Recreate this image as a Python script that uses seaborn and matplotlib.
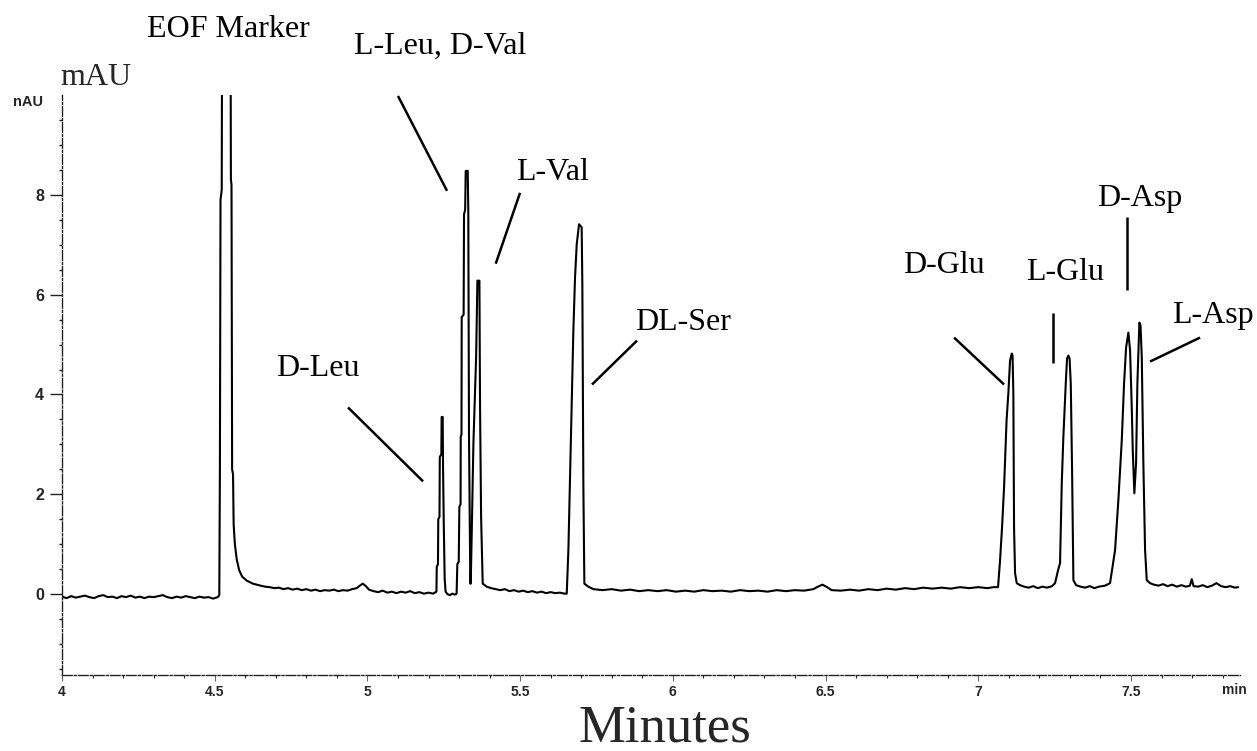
import numpy as np
import pandas as pd
import matplotlib
matplotlib.use("Agg")
import matplotlib.pyplot as plt
import seaborn as sns

# ---------------- data ----------------
# baseline before the EOF marker
base1_t = [4.000, 4.015, 4.030, 4.045, 4.060, 4.075, 4.090, 4.105, 4.120, 4.135, 4.150, 4.165,
           4.180, 4.195, 4.210, 4.225, 4.240, 4.255, 4.270, 4.285, 4.300, 4.315, 4.330, 4.345,
           4.360, 4.375, 4.390, 4.405, 4.420, 4.435, 4.450, 4.465, 4.480, 4.495, 4.510]
base1_v = [-0.05, -0.08, -0.04, -0.07, -0.05, -0.03, -0.06, -0.08, -0.04, -0.02, -0.06, -0.05,
           -0.08, -0.04, -0.06, -0.03, -0.07, -0.05, -0.08, -0.05, -0.06, -0.04, -0.02, -0.06,
           -0.08, -0.05, -0.07, -0.04, -0.06, -0.08, -0.05, -0.07, -0.06, -0.09, -0.06]

# EOF marker (off scale)
eof_t = [4.515, 4.517, 4.519, 4.521, 4.523, 4.525, 4.551, 4.553, 4.555, 4.557, 4.560,
         4.562, 4.566, 4.572, 4.580, 4.590, 4.605, 4.625, 4.650]
eof_v = [-0.02, 2.5, 7.9, 8.0, 8.1, 14.0, 14.0, 8.3, 8.2, 2.5, 2.4,
         1.4, 1.0, 0.7, 0.48, 0.35, 0.27, 0.21, 0.17]

base2_t = [4.665, 4.680, 4.695, 4.710, 4.725, 4.740, 4.755, 4.770, 4.785, 4.800, 4.815, 4.830,
           4.845, 4.860, 4.875, 4.890, 4.905, 4.920, 4.935, 4.950, 4.965, 4.975, 4.985, 4.995,
           5.005, 5.020, 5.035, 5.050, 5.065, 5.080, 5.095, 5.110, 5.125, 5.140, 5.155, 5.170,
           5.185, 5.200, 5.215]
base2_v = [0.15, 0.14, 0.12, 0.13, 0.10, 0.12, 0.09, 0.11, 0.08, 0.10, 0.07, 0.09,
           0.06, 0.08, 0.07, 0.09, 0.06, 0.08, 0.07, 0.10, 0.12, 0.17, 0.21, 0.16,
           0.09, 0.06, 0.04, 0.07, 0.03, 0.05, 0.02, 0.05, 0.03, 0.06, 0.02, 0.04,
           0.01, 0.03, 0.01]

# D-Leu, L-Leu/D-Val, L-Val
leu_t = [5.226, 5.227, 5.231, 5.232, 5.236, 5.237, 5.242, 5.243, 5.2465, 5.2475, 5.250, 5.253,
         5.256, 5.262, 5.270, 5.278, 5.286, 5.292,
         5.2944, 5.299, 5.301, 5.305, 5.3055, 5.308, 5.3087, 5.315, 5.3163, 5.320, 5.3218,
         5.3284, 5.3303, 5.3326, 5.3349, 5.3369, 5.3382,
         5.3415, 5.347, 5.3559, 5.3601, 5.3667, 5.3687, 5.3722, 5.3775, 5.3906]
leu_v = [0.05, 0.55, 0.60, 1.50, 1.55, 2.75, 2.80, 3.55, 3.55, 2.60, 1.40, 0.30,
         0.05, 0.00, -0.02, 0.01, -0.01, 0.01,
         0.60, 0.65, 1.75, 1.80, 3.15, 3.20, 5.55, 5.60, 7.61, 7.70, 8.48,
         8.48, 7.68, 3.15, 1.55, 0.21, 0.21,
         1.21, 3.01, 4.75, 6.28, 6.28, 3.81, 1.55, 0.21, 0.15]

base3_t = [5.405, 5.420, 5.435, 5.450, 5.465, 5.480, 5.495, 5.510, 5.525, 5.540, 5.555, 5.570,
           5.585, 5.600, 5.615, 5.630, 5.645]
base3_v = [0.12, 0.10, 0.08, 0.10, 0.06, 0.08, 0.05, 0.07, 0.04, 0.06, 0.03, 0.05,
           0.02, 0.04, 0.02, 0.03, 0.01]

# DL-Ser
ser_t = [5.6526, 5.658, 5.6634, 5.6689, 5.6743, 5.6798, 5.6853, 5.6929, 5.7015, 5.7037, 5.707,
         5.7103, 5.7234]
ser_v = [0.01, 0.88, 2.35, 3.81, 5.28, 6.35, 7.01, 7.41, 7.35, 6.21, 2.21, 0.21, 0.15]

base4_t = [5.74, 5.77, 5.80, 5.83, 5.86, 5.89, 5.92, 5.95, 5.98, 6.01, 6.04, 6.07, 6.10, 6.13,
           6.16, 6.19, 6.22, 6.25, 6.28, 6.31, 6.34, 6.37, 6.40, 6.43, 6.46, 6.475, 6.49, 6.505,
           6.52, 6.55, 6.58, 6.61, 6.64, 6.67, 6.70, 6.73, 6.76, 6.79, 6.82, 6.85, 6.88, 6.91,
           6.94, 6.97, 7.00, 7.03, 7.05]
base4_v = [0.10, 0.08, 0.10, 0.07, 0.09, 0.06, 0.08, 0.06, 0.08, 0.05, 0.07, 0.05, 0.08, 0.06,
           0.07, 0.05, 0.08, 0.06, 0.07, 0.05, 0.08, 0.06, 0.08, 0.07, 0.10, 0.15, 0.19, 0.14,
           0.08, 0.07, 0.09, 0.07, 0.10, 0.08, 0.11, 0.09, 0.12, 0.10, 0.13, 0.11, 0.13, 0.11,
           0.14, 0.12, 0.14, 0.12, 0.14]

# D-Glu, L-Glu
glu_t = [7.0648, 7.0714, 7.0779, 7.0845, 7.0927, 7.0985, 7.1041, 7.1097, 7.1123, 7.1149, 7.1172,
         7.1205, 7.126, 7.1368, 7.150, 7.165, 7.180, 7.195, 7.210, 7.225, 7.2416,
         7.2515, 7.2613, 7.2678, 7.2734, 7.2786, 7.2865, 7.2907, 7.295, 7.299, 7.3029, 7.3072,
         7.3115, 7.3202, 7.335, 7.350, 7.365, 7.380, 7.395, 7.4152]
glu_v = [0.14, 0.68, 1.34, 2.14, 3.48, 4.02, 4.68, 4.82, 4.78, 4.02, 1.34,
         0.42, 0.22, 0.18, 0.15, 0.13, 0.16, 0.12, 0.15, 0.13, 0.16,
         0.22, 0.48, 0.62, 2.22, 3.14, 4.22, 4.72, 4.78, 4.72, 4.22, 2.48,
         0.28, 0.18, 0.15, 0.13, 0.16, 0.12, 0.15, 0.17]

# D-Asp, L-Asp and the tail
asp_t = [7.4315, 7.4479, 7.4587, 7.4699, 7.4774, 7.484, 7.4915, 7.4971, 7.5026, 7.5059, 7.5111,
         7.5167, 7.521, 7.5275, 7.5314, 7.5354, 7.5406, 7.5462, 7.5517, 7.5625,
         7.575, 7.590, 7.605, 7.620, 7.635, 7.650, 7.665, 7.680, 7.693, 7.699, 7.705, 7.720,
         7.735, 7.750, 7.765, 7.780, 7.795, 7.810, 7.825, 7.840, 7.851]
asp_v = [0.22, 0.88, 1.88, 3.08, 4.22, 4.94, 5.24, 4.88, 3.74, 2.88, 2.02,
         2.62, 4.22, 5.44, 5.38, 4.74, 2.62, 0.88, 0.28, 0.22,
         0.19, 0.17, 0.20, 0.16, 0.19, 0.15, 0.18, 0.15, 0.17, 0.30, 0.16, 0.15,
         0.18, 0.14, 0.17, 0.22, 0.16, 0.14, 0.16, 0.13, 0.14]

# peak labels: text, text position, leader line (start, end)
labels = ["EOF Marker", "L-Leu, D-Val", "L-Val", "D-Leu", "DL-Ser", "D-Glu", "L-Glu", "D-Asp", "L-Asp"]
label_t = [4.5435, 5.2377, 5.6077, 4.8382, 6.0334, 6.888, 7.2842, 7.5298, 7.7688]
label_v = [11.32, 10.98, 8.44, 4.52, 5.44, 6.58, 6.44, 7.92, 5.58]
leader_t0 = [None, 5.1002, 5.4997, 4.9365, 5.8828, 6.9208, 7.2449, 7.4856, 7.7262]
leader_v0 = [None, 9.98, 8.04, 3.74, 5.08, 5.14, 5.64, 7.56, 5.14]
leader_t1 = [None, 5.2606, 5.4201, 5.1821, 5.7354, 7.0845, 7.2449, 7.4856, 7.5625]
leader_v1 = [None, 8.08, 6.62, 2.26, 4.20, 4.20, 4.64, 6.10, 4.66]

xtick_vals = [4, 4.5, 5, 5.5, 6, 6.5, 7, 7.5]
xtick_labels = ["4", "4.5", "5", "5.5", "6", "6.5", "7", "7.5"]
ytick_vals = [0, 2, 4, 6, 8]
ytick_labels = ["0", "2", "4", "6", "8"]

# ---------------- figure ----------------
sns.set_theme(style="white")
plt.rcParams["font.family"] = ["Liberation Serif", "DejaVu Serif"]

trace = pd.DataFrame({
    "time": base1_t + eof_t + base2_t + leu_t + base3_t + ser_t + base4_t + glu_t + asp_t,
    "mAU": base1_v + eof_v + base2_v + leu_v + base3_v + ser_v + base4_v + glu_v + asp_v,
})

W, H = 1257, 751
fig = plt.figure(figsize=(W / 100, H / 100), dpi=100)
fig.patch.set_facecolor("white")
ax = fig.add_axes([62 / W, 1 - 675 / H, (1240 - 62) / W, (675 - 95) / H])
ax.set_facecolor("white")

sns.lineplot(data=trace, x="time", y="mAU", sort=False, estimator=None,
             color="black", linewidth=1.5, ax=ax)

ax.set_xlim(4, 7.857)
ax.set_ylim(-1.62, 10)

# annotations
for i, lab in enumerate(labels):
    ax.text(label_t[i], label_v[i], lab, ha="center", va="center", fontsize=23,
            color="black", clip_on=False)
    if leader_t0[i] is not None:
        ax.plot([leader_t0[i], leader_t1[i]], [leader_v0[i], leader_v1[i]],
                color="black", lw=1.8, clip_on=False, solid_capstyle="butt")

# axes styling
for s in ["top", "right"]:
    ax.spines[s].set_visible(False)
for s in ["left", "bottom"]:
    ax.spines[s].set_visible(True)
    ax.spines[s].set_color("#222222")
    ax.spines[s].set_linewidth(1.0)
    ax.spines[s].set_linestyle((0, (7, 1.5, 1.5, 1.5)))

ax.set_xticks(xtick_vals)
ax.set_xticklabels(xtick_labels, fontfamily="Liberation Sans", fontweight="bold", fontsize=10)
ax.set_xticks(np.arange(4.0, 7.86, 0.1), minor=True)
ax.set_yticks(ytick_vals)
ax.set_yticklabels(ytick_labels, fontfamily="Liberation Sans", fontweight="bold", fontsize=11.5)
ax.set_yticks(np.arange(-1.5, 10.0, 0.5), minor=True)

ax.tick_params(axis="y", which="major", direction="out", length=9, width=1.0, pad=4,
               color="#222222", left=True)
ax.tick_params(axis="y", which="minor", direction="out", length=2.5, width=1.0,
               color="#222222", left=True)
ax.tick_params(axis="x", which="major", direction="out", length=4, width=0.8, pad=3,
               color="#666666", bottom=True)
ax.tick_params(axis="x", which="minor", direction="out", length=2, width=0.8,
               color="#222222", bottom=True)
ax.set_xlabel("")
ax.set_ylabel("")
ax.grid(False)

ax.annotate("min", xy=(7.8376, 0), xycoords=("data", "axes fraction"),
            xytext=(0, -6), textcoords="offset points", ha="center", va="top",
            fontfamily="Liberation Sans", fontweight="bold", fontsize=10)
ax.text(3.938, 9.85, "nAU", ha="right", va="center", fontfamily="Liberation Sans",
        fontweight="bold", fontsize=10.5, clip_on=False)
ax.text(3.993, 10.2, "mAU", ha="left", va="baseline", fontsize=23, clip_on=False)

fig.text(665 / W, 1 - 741 / H, "Minutes", ha="center", va="baseline", fontsize=38)

fig.savefig("out.png", dpi=100, facecolor="white")
